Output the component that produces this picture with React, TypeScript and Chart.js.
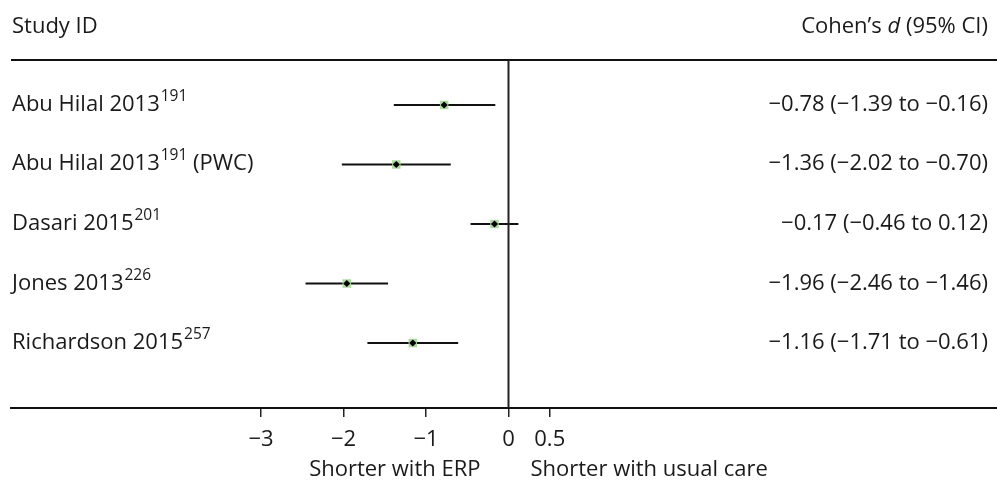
import React, { useEffect, useRef } from "react";
import { Chart, registerables } from "chart.js";

Chart.register(...registerables);

const studyNames = ["Abu Hilal 2013", "Abu Hilal 2013", "Dasari 2015", "Jones 2013", "Richardson 2015"];
const studyRefs = ["191", "191", "201", "226", "257"];
const studySuffix = ["", " (PWC)", "", "", ""];
const estimates = [-0.78, -1.36, -0.17, -1.96, -1.16];
const lowerCI = [-1.39, -2.02, -0.46, -2.46, -1.71];
const upperCI = [-0.16, -0.70, 0.12, -1.46, -0.61];
const xTickValues = [-3, -2, -1, 0, 0.5];
const leftDirectionLabel = "Shorter with ERP";
const rightDirectionLabel = "Shorter with usual care";

const FONT = '"Open Sans", "Noto Sans", sans-serif';
const TEXT = "#1a1a1a";
const SIZE = 22;

const fmt = (v: number) => (v < 0 ? "\u2212" : "") + Math.abs(v).toFixed(2);
const fmtTick = (v: number) => (v < 0 ? "\u2212" + Math.abs(v) : String(v));

const textPlugin = {
  id: "forestText",
  afterDraw(chart: any) {
    const ctx = chart.ctx as CanvasRenderingContext2D;
    const { chartArea } = chart;
    const xs = chart.scales.x;
    const ys = chart.scales.y;
    const x0 = xs.getPixelForValue(0);
    ctx.save();
    // top rule
    ctx.strokeStyle = "#111";
    ctx.lineWidth = 2;
    ctx.beginPath();
    ctx.moveTo(chartArea.left, chartArea.top);
    ctx.lineTo(chartArea.right, chartArea.top);
    ctx.stroke();
    // null line
    ctx.lineWidth = 2;
    ctx.strokeStyle = "#222";
    ctx.beginPath();
    ctx.moveTo(x0, chartArea.top);
    ctx.lineTo(x0, chartArea.bottom);
    ctx.stroke();

    ctx.fillStyle = TEXT;
    ctx.textBaseline = "alphabetic";
    const main = `${SIZE}px ${FONT}`;
    const sup = `15.5px ${FONT}`;
    const ital = `italic ${SIZE}px ${FONT}`;

    // headers
    ctx.font = main;
    ctx.textAlign = "left";
    ctx.fillText("Study ID", 12, 33);
    const hParts: [string, string][] = [["Cohen\u2019s ", main], ["d", ital], [" (95% CI)", main]];
    let total = 0;
    hParts.forEach(([t, f]) => { ctx.font = f; total += ctx.measureText(t).width; });
    let hx = 988 - total;
    hParts.forEach(([t, f]) => { ctx.font = f; ctx.fillText(t, hx, 33); hx += ctx.measureText(t).width; });

    // rows
    studyNames.forEach((name, i) => {
      const y = ys.getPixelForValue(i);
      const base = y + 6;
      let x = 12;
      ctx.textAlign = "left";
      ctx.font = main;
      ctx.fillText(name, x, base);
      x += ctx.measureText(name).width + 1;
      ctx.font = sup;
      ctx.fillText(studyRefs[i], x, base - 10);
      x += ctx.measureText(studyRefs[i]).width;
      if (studySuffix[i]) {
        ctx.font = main;
        ctx.fillText(studySuffix[i], x, base);
      }
      ctx.font = main;
      ctx.textAlign = "right";
      ctx.fillText(`${fmt(estimates[i])} (${fmt(lowerCI[i])} to ${fmt(upperCI[i])})`, 988, base);
    });

    // direction labels
    ctx.font = main;
    ctx.textAlign = "right";
    ctx.fillText(leftDirectionLabel, x0 - 28, 476);
    ctx.textAlign = "left";
    ctx.fillText(rightDirectionLabel, x0 + 22, 476);
    ctx.restore();
  },
};

export default function App() {
  const ref = useRef<HTMLCanvasElement | null>(null);
  useEffect(() => {
    if (!ref.current) return;
    const ciSets = studyNames.map((_, i) => ({
      type: "line" as const,
      data: [
        { x: lowerCI[i], y: i },
        { x: upperCI[i], y: i },
      ],
      borderColor: "#111",
      borderWidth: 1.8,
      pointRadius: 0,
      order: 3,
    }));
    const chart = new Chart(ref.current, {
      type: "scatter",
      data: {
        datasets: [
          ...ciSets,
          {
            type: "scatter",
            data: estimates.map((v, i) => ({ x: v, y: i })),
            pointStyle: "rect",
            pointRadius: 6,
            backgroundColor: "#acd99e",
            borderWidth: 0,
            order: 2,
          },
          {
            type: "scatter",
            data: estimates.map((v, i) => ({ x: v, y: i })),
            pointStyle: "rectRot",
            pointRadius: 3.6,
            backgroundColor: "#000",
            borderWidth: 0,
            order: 1,
          },
        ] as any,
      },
      options: {
        animation: false,
        responsive: false,
        devicePixelRatio: 1,
        layout: { autoPadding: false, padding: { left: 11, right: 0, top: 60, bottom: 0 } },
        plugins: { legend: { display: false }, tooltip: { enabled: false } },
        scales: {
          x: {
            type: "linear",
            min: -6.03,
            max: 5.921,
            afterFit: (s: any) => { s.height = 72; s.paddingLeft = 0; s.paddingRight = 0; },
            afterBuildTicks: (s: any) => { s.ticks = xTickValues.map((v) => ({ value: v })); },
            grid: { display: true, drawOnChartArea: false, drawTicks: true, tickLength: 9, color: "#222", lineWidth: 1.5 },
            border: { display: true, color: "#111", width: 2 },
            ticks: {
              autoSkip: false,
              maxRotation: 0,
              padding: 10,
              color: TEXT,
              font: { family: FONT, size: SIZE },
              callback: (v: any) => fmtTick(Number(v)),
            },
          },
          y: {
            type: "linear",
            min: -0.756,
            max: 5.092,
            reverse: true,
            display: false,
          },
        },
      } as any,
      plugins: [textPlugin],
    });
    return () => chart.destroy();
  }, []);
  return (
    <div style={{ position: "absolute", left: 0, top: 0, width: 997, height: 480, background: "#fff" }}>
      <canvas ref={ref} width={997} height={480} style={{ width: 997, height: 480, display: "block" }} />
    </div>
  );
}
